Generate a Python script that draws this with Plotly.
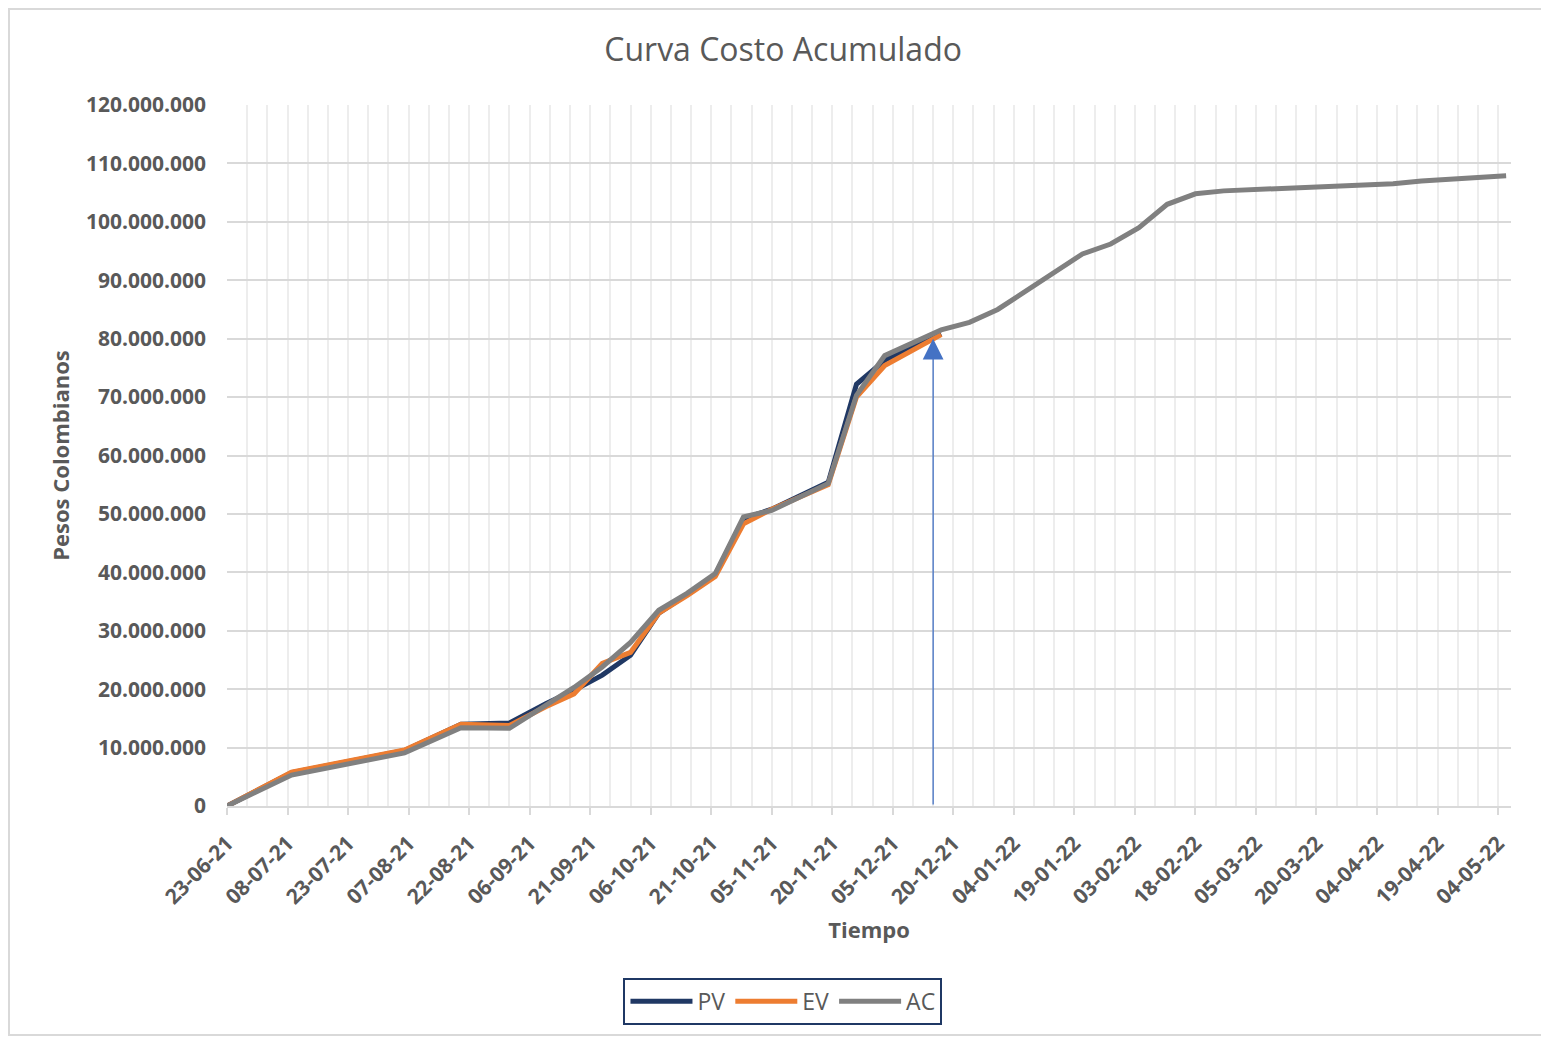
import plotly.graph_objects as go

# fechas de corte (dd-mm-yy en el eje)
fechas_ac = ['2021-06-23', '2021-07-09', '2021-08-06', '2021-08-20', '2021-09-01', '2021-09-10',
             '2021-09-17', '2021-09-24', '2021-10-01', '2021-10-08', '2021-10-15', '2021-10-22',
             '2021-10-29', '2021-11-05', '2021-11-19', '2021-11-26', '2021-12-03', '2021-12-17',
             '2021-12-24', '2021-12-31', '2022-01-07', '2022-01-14', '2022-01-21', '2022-01-28',
             '2022-02-04', '2022-02-11', '2022-02-18', '2022-02-25', '2022-04-08', '2022-04-15',
             '2022-05-06']
fechas_pv_ev = fechas_ac[:18]

# valores acumulados en pesos
pv = [0, 5.7e6, 9.5e6, 14.0e6, 14.2e6, 17.5e6, 19.8e6, 22.4e6, 25.8e6, 33.0e6, 36.2e6, 39.6e6,
      49.2e6, 50.8e6, 55.4e6, 72.2e6, 76.3e6, 80.8e6]
ev = [0, 5.8e6, 9.6e6, 14.0e6, 13.8e6, 17.0e6, 19.2e6, 24.4e6, 26.3e6, 33.0e6, 36.0e6, 39.3e6,
      48.3e6, 50.8e6, 55.0e6, 70.0e6, 75.4e6, 80.7e6]
ac = [0, 5.3e6, 9.1e6, 13.4e6, 13.3e6, 17.3e6, 20.3e6, 23.8e6, 28.0e6, 33.5e6, 36.4e6, 39.8e6,
      49.5e6, 50.6e6, 55.2e6, 70.3e6, 77.1e6, 81.5e6, 82.8e6, 85.0e6, 88.2e6, 91.5e6, 94.5e6,
      96.2e6, 99.0e6, 103.0e6, 104.8e6, 105.3e6, 106.5e6, 107.0e6, 107.9e6]

# fecha de corte marcada con la flecha
fecha_corte = '2021-12-15'
valor_corte = 80.0e6

gris = '#595959'
dia = 86400000

fig = go.Figure()
fig.add_trace(go.Scatter(x=fechas_pv_ev, y=pv, name='PV', mode='lines',
                         line=dict(color='#203864', width=5)))
fig.add_trace(go.Scatter(x=fechas_pv_ev, y=ev, name='EV', mode='lines',
                         line=dict(color='#ED7D31', width=5)))
fig.add_trace(go.Scatter(x=fechas_ac, y=ac, name='AC', mode='lines',
                         line=dict(color='#808080', width=5)))

fig.add_annotation(x=fecha_corte, y=valor_corte, ax=fecha_corte, ay=0, axref='x', ayref='y',
                   text='', showarrow=True, arrowhead=2, arrowsize=3.2, arrowwidth=1.3,
                   arrowcolor='#4472C4')

# borde del area del grafico
fig.add_shape(type='rect', xref='paper', yref='paper', x0=-0.1698, x1=1.028, y0=-0.3267, y1=1.137,
              line=dict(color='#d9d9d9', width=2), layer='below')

fig.update_layout(
    width=1541, height=1029,
    margin=dict(l=219, r=38, t=97, b=231),
    paper_bgcolor='white', plot_bgcolor='white',
    separators=',.',
    font=dict(family='Open Sans', color=gris),
    title=dict(text='Curva Costo Acumulado', xref='container', x=0.503, xanchor='center',
               y=0.959, yanchor='middle', font=dict(size=32, color=gris)),
    xaxis=dict(
        type='date', range=['2021-06-23', '2022-05-07 05:00'],
        tick0='2021-06-23', dtick=15 * dia, tickformat='%d-%m-%y', tickangle=-45,
        tickfont=dict(size=21, color=gris, family='Open Sans', weight='bold'),
        ticks='outside', ticklen=7, tickwidth=2, tickcolor='#d9d9d9', ticklabelstandoff=8,
        showgrid=True, gridcolor='#ededed', gridwidth=2,
        minor=dict(dtick=5 * dia, tick0='2021-06-23', showgrid=True, gridcolor='#ededed', gridwidth=2),
        showline=True, linecolor='#d9d9d9', linewidth=2,
        title=dict(text='<b>Tiempo</b>', font=dict(size=22, color=gris), standoff=14),
        zeroline=False,
    ),
    yaxis=dict(
        range=[0, 120e6], dtick=10e6, tickformat=',d',
        tickfont=dict(size=21, color=gris, family='Open Sans', weight='bold'),
        ticklabelstandoff=20,
        showgrid=True, gridcolor='#d9d9d9', gridwidth=2, zeroline=False,
        title=dict(text='<b>Pesos Colombianos</b>', font=dict(size=22, color=gris), standoff=10),
    ),
    legend=dict(orientation='h', x=0.433, xanchor='center', y=-0.245, yanchor='top',
                bordercolor='#1F3864', borderwidth=2, font=dict(size=23, color=gris),
                itemwidth=62),
)

fig.write_html('out.html')
